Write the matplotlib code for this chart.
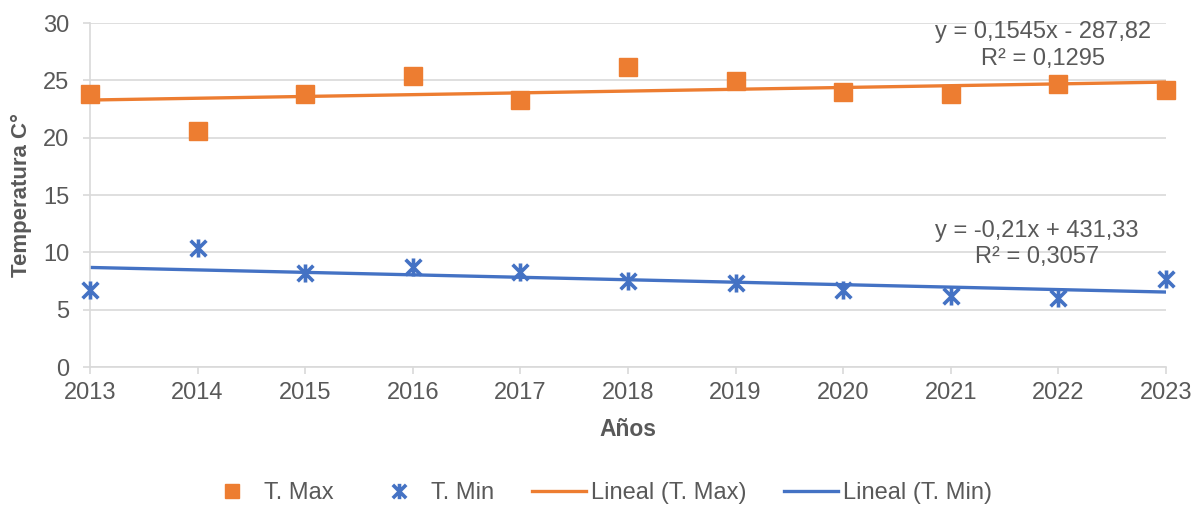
import matplotlib.pyplot as plt
import numpy as np
from matplotlib.path import Path

plt.rcParams['font.family'] = ['Liberation Sans', 'DejaVu Sans']

years = [2013, 2014, 2015, 2016, 2017, 2018, 2019, 2020, 2021, 2022, 2023]
t_max = [23.8, 20.6, 23.8, 25.4, 23.3, 26.2, 24.9, 24.0, 23.8, 24.7, 24.2]
t_min = [6.7, 10.4, 8.2, 8.7, 8.3, 7.5, 7.3, 6.7, 6.2, 6.0, 7.7]

eq_max = ['y = 0,1545x - 287,82', 'R² = 0,1295']
eq_min = ['y = -0,21x + 431,33', 'R² = 0,3057']

orange = '#ED7D31'
blue = '#4472C4'
gray = '#595959'

# marcador tipo estrella de Excel (X con barra vertical)
star = Path([(-1, -1), (1, 1), (-1, 1), (1, -1), (0, -1.15), (0, 1.15)],
            [Path.MOVETO, Path.LINETO, Path.MOVETO, Path.LINETO,
             Path.MOVETO, Path.LINETO])

x = np.array(years)
p_max = np.polyfit(x, t_max, 1)
p_min = np.polyfit(x, t_min, 1)

fig = plt.figure(figsize=(11.97, 5.08), dpi=100)
ax = fig.add_axes([90 / 1197, 1 - 367 / 508, (1166 - 90) / 1197, (367 - 23) / 508])

ax.plot(x, t_max, linestyle='none', marker='s', markersize=12.5,
        color=orange, label='T. Max', zorder=3, clip_on=False)
ax.plot(x, t_min, linestyle='none', marker=star, markersize=13,
        markeredgewidth=2.6, color=blue, label='T. Min', zorder=3, clip_on=False)
ax.plot(x, np.polyval(p_max, x), color=orange, lw=2.4, label='Lineal (T. Max)', zorder=2)
ax.plot(x, np.polyval(p_min, x), color=blue, lw=2.4, label='Lineal (T. Min)', zorder=2)

ax.set_xlim(2013, 2023)
ax.set_ylim(0, 30)
ax.set_xticks(years)
ax.set_yticks(range(0, 31, 5))
ax.grid(axis='y', color='#d9d9d9', lw=1.2)
ax.set_axisbelow(True)
for s in ['top', 'right']:
    ax.spines[s].set_visible(False)
for s in ['left', 'bottom']:
    ax.spines[s].set_color('#d9d9d9')
    ax.spines[s].set_linewidth(1.2)
ax.tick_params(length=5, width=1.2, color='#d9d9d9', labelsize=17, labelcolor=gray)
ax.tick_params(axis='x', pad=6)
ax.tick_params(axis='y', pad=10)

ax.set_xlabel('Años', fontsize=16.5, fontweight='bold', color=gray, labelpad=10)
ax.set_ylabel('Temperatura C°', fontsize=16, fontweight='bold', color=gray, labelpad=8)

ax.text(2021.86, 29.2, eq_max[0], fontsize=17, color=gray, ha='center', va='center')
ax.text(2021.86, 26.9, eq_max[1], fontsize=17, color=gray, ha='center', va='center')
ax.text(2021.8, 11.85, eq_min[0], fontsize=17, color=gray, ha='center', va='center')
ax.text(2021.8, 9.6, eq_min[1], fontsize=17, color=gray, ha='center', va='center')

fig.legend(loc='center', bbox_to_anchor=(0.5, 1 - 493 / 508), ncol=4, frameon=False,
           fontsize=17, labelcolor=gray, handlelength=2.3, columnspacing=1.6,
           handletextpad=0.2, markerscale=0.85)

fig.savefig('out.png', dpi=100)
